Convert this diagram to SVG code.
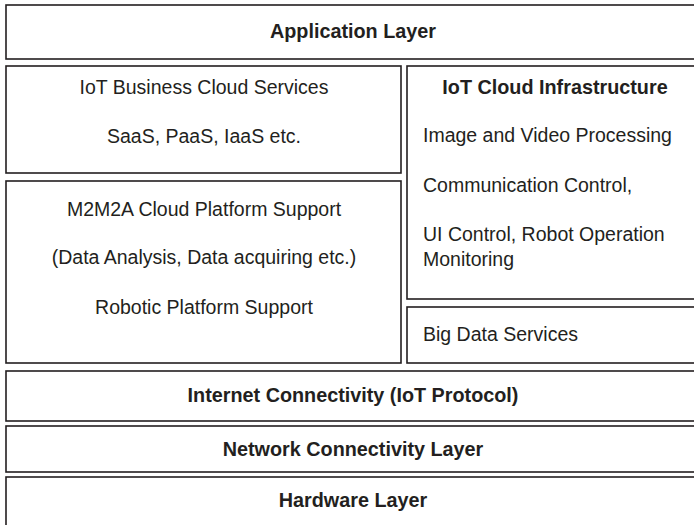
<svg xmlns="http://www.w3.org/2000/svg" width="694" height="525" viewBox="0 0 694 525">
<style>
.box{fill:#fff;stroke:#231f20;stroke-width:1.6}
text{font-family:"Liberation Sans","Open Sans",sans-serif;font-size:19.5px;fill:#231f20}
.b{font-weight:bold;font-size:19.8px}
.c{text-anchor:middle}
</style>
<rect width="694" height="525" fill="#fff"/>
<g id="app"><rect class="box" x="6" y="5" width="700" height="54"/><text class="b c" x="353" y="38">Application Layer</text></g>
<g id="biz"><rect class="box" x="6" y="66" width="395" height="107"/><text class="c" x="204" y="94">IoT Business Cloud Services</text><text class="c" x="204" y="143">SaaS, PaaS, IaaS etc.</text></g>
<g id="infra"><rect class="box" x="407" y="66" width="300" height="233"/><text class="b c" x="555" y="94">IoT Cloud Infrastructure</text><text x="423" y="142">Image and Video Processing</text><text x="423" y="192">Communication Control,</text><text x="423" y="241">UI Control, Robot Operation</text><text x="423" y="266">Monitoring</text></g>
<g id="m2m"><rect class="box" x="6" y="181" width="395" height="182"/><text class="c" x="204" y="216">M2M2A Cloud Platform Support</text><text class="c" x="204" y="264">(Data Analysis, Data acquiring etc.)</text><text class="c" x="204" y="314">Robotic Platform Support</text></g>
<g id="bigdata"><rect class="box" x="407" y="307" width="300" height="56"/><text x="423" y="341">Big Data Services</text></g>
<g id="internet"><rect class="box" x="6" y="371" width="700" height="50"/><text class="b c" x="353" y="402">Internet Connectivity (IoT Protocol)</text></g>
<g id="network"><rect class="box" x="6" y="426" width="700" height="46"/><text class="b c" x="353" y="456">Network Connectivity Layer</text></g>
<g id="hw"><rect class="box" x="6" y="477" width="700" height="60"/><text class="b c" x="353" y="507">Hardware Layer</text></g>
<g id="connectors"/>
</svg>
